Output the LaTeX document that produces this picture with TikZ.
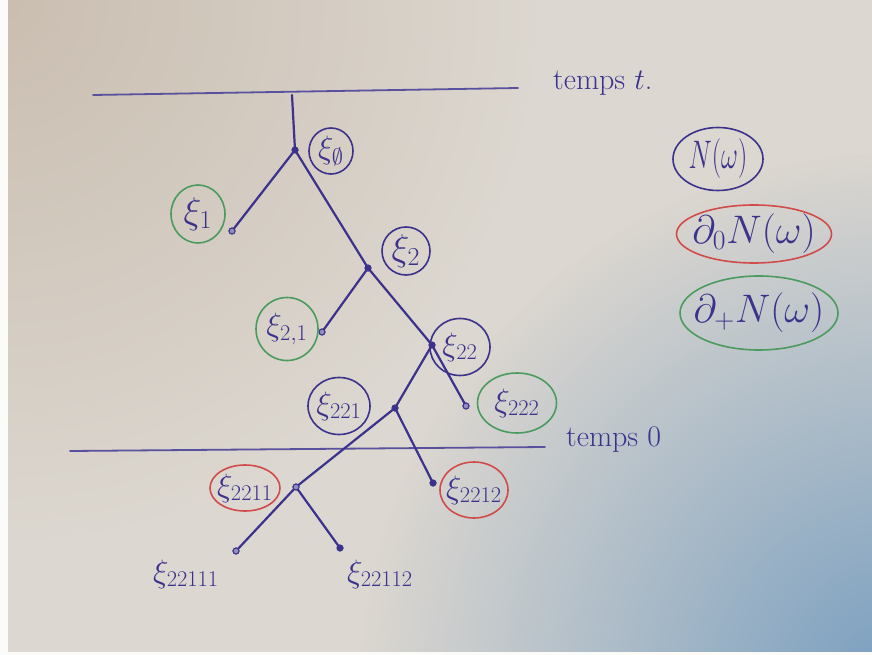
\documentclass[tikz,border=0pt]{standalone}
\usepackage{graphicx}
\usetikzlibrary{shapes.geometric,fadings}
\definecolor{ink}{RGB}{60,50,140}
\definecolor{redink}{RGB}{210,75,75}
\definecolor{greenink}{RGB}{75,155,95}
\definecolor{paper}{RGB}{220,215,208}
\definecolor{tan}{RGB}{202,190,176}
\definecolor{shadow}{RGB}{120,158,192}
\tikzfading[name=softfade, inner color=transparent!0, outer color=transparent!100]
\newcommand{\xlab}[1]{\scalebox{1.3}{$#1$}}
\newcommand{\xbig}[1]{\scalebox{1.5}{$#1$}}
\newcommand{\leglab}[1]{\scalebox{1.6}{$#1$}}
\tikzset{
  branch/.style={draw=ink, line width=2.2pt, line cap=round},
  timeline/.style={draw=ink!85, line width=1.8pt, line cap=round},
  dotnode/.style={circle, fill=ink, inner sep=0pt, minimum size=7pt},
  leafnode/.style={circle, draw=ink, fill=ink!55, line width=1pt, inner sep=0pt, minimum size=6pt},
  lab/.style={text=ink, font=\fontsize{24}{28}\selectfont, inner sep=0pt},
  ring/.style={lab, ellipse, line width=1.6pt, inner xsep=-8pt, inner ysep=-5pt},
  bring/.style={ring, draw=ink},
  rring/.style={ring, draw=redink},
  gring/.style={ring, draw=greenink},
  legtext/.style={text=ink, font=\fontsize{24}{28}\selectfont, ellipse, line width=1.6pt, inner xsep=-12pt, inner ysep=-7pt},
  timetext/.style={text=ink, font=\fontsize{30}{34}\selectfont, inner sep=0pt, anchor=west}
}
\begin{document}
\begin{tikzpicture}[x=1pt,y=-1pt]
\fill[paper] (0,0) rectangle (872,655);
\begin{scope}
\clip (0,0) rectangle (872,655);
\fill[tan, path fading=softfade] (0,0) circle (540);
\fill[shadow, path fading=softfade] (900,690) circle (540);
\end{scope}
\fill[white!90!paper] (0,0) rectangle (8,655);
\fill[white!90!paper] (0,652) rectangle (872,655);
\useasboundingbox (0,0) rectangle (872,655);

% time lines
\coordinate (tl) at (93,95);
\coordinate (tr) at (518,88);
\coordinate (zl) at (70,451);
\coordinate (zr) at (545,447);
\draw[timeline] (tl) -- (tr);
\draw[timeline] (zl) -- (zr);
\node[timetext] (tt) at (553,83) {temps \scalebox{1.2}{$t$}.};
\node[timetext] (t0) at (566,440) {temps \scalebox{1.2}{$0$}};

% tree points
\coordinate (top) at (292,95);
\node[dotnode] (n0) at (295,150) {};
\node[leafnode] (n1) at (232,231) {};
\node[dotnode] (n2) at (368,268) {};
\node[leafnode] (n21) at (322,332) {};
\node[dotnode] (n22) at (432,345) {};
\node[leafnode] (n222) at (466,406) {};
\node[dotnode] (n221) at (395,408) {};
\node[dotnode] (n2212) at (433,483) {};
\node[leafnode] (n2211) at (296,487) {};
\node[leafnode] (n22111) at (236,551) {};
\node[dotnode] (n22112) at (340,548) {};

% branches
\draw[branch] (top) -- (n0.center);
\draw[branch] (n0.center) -- (n1.center);
\draw[branch] (n0.center) -- (n2.center);
\draw[branch] (n2.center) -- (n21.center);
\draw[branch] (n2.center) -- (n22.center);
\draw[branch] (n22.center) -- (n222.center);
\draw[branch] (n22.center) -- (n221.center);
\draw[branch] (n221.center) -- (n2212.center);
\draw[branch] (n221.center) -- (n2211.center);
\draw[branch] (n2211.center) -- (n22111.center);
\draw[branch] (n2211.center) -- (n22112.center);
\foreach \n in {n0,n2,n22,n221,n2212,n22112} \fill[ink] (\n) circle (3.5pt);
\foreach \n in {n1,n21,n222,n2211,n22111} \filldraw[draw=ink, fill=ink!55, line width=1pt] (\n) circle (3pt);

% labels
\node[bring, minimum width=44pt, minimum height=46pt] (l0) at (331,151) {\xlab{\xi_{\emptyset}}};
\node[gring, minimum width=54pt, minimum height=58pt] (l1) at (198,214) {\xbig{\xi_1}};
\node[bring, minimum width=48pt, minimum height=48pt] (l2) at (406,251) {\xbig{\xi_2}};
\node[gring, minimum width=62pt, minimum height=63pt] (l21) at (287,329) {\xlab{\xi_{2,1}}};
\node[bring, minimum width=60pt, minimum height=57pt] (l22) at (460,347) {\xlab{\xi_{22}}};
\node[bring, minimum width=62pt, minimum height=57pt] (l221) at (339,406) {\xlab{\xi_{221}}};
\node[gring, minimum width=79pt, minimum height=60pt] (l222) at (517,403) {\xlab{\xi_{222}}};
\node[rring, minimum width=70pt, minimum height=46pt] (l2211) at (245,488) {\xlab{\xi_{2211}}};
\node[rring, minimum width=68pt, minimum height=56pt] (l2212) at (474,490) {\xlab{\xi_{2212}}};
\node[lab] (l22111) at (186,574) {\xlab{\xi_{22111}}};
\node[lab] (l22112) at (380,574) {\xlab{\xi_{22112}}};

% legend
\node[legtext, draw=ink, minimum width=90pt, minimum height=63pt] (legN) at (718,159) {\scalebox{1.05}[1.6]{$N(\omega)$}};
\node[legtext, draw=redink, minimum width=155pt, minimum height=58pt] (leg0) at (754,234) {\leglab{\partial_0 N(\omega)}};
\node[legtext, draw=greenink, minimum width=158pt, minimum height=74pt] (legp) at (759,313) {\leglab{\partial_+ N(\omega)}};
\end{tikzpicture}
\end{document}
